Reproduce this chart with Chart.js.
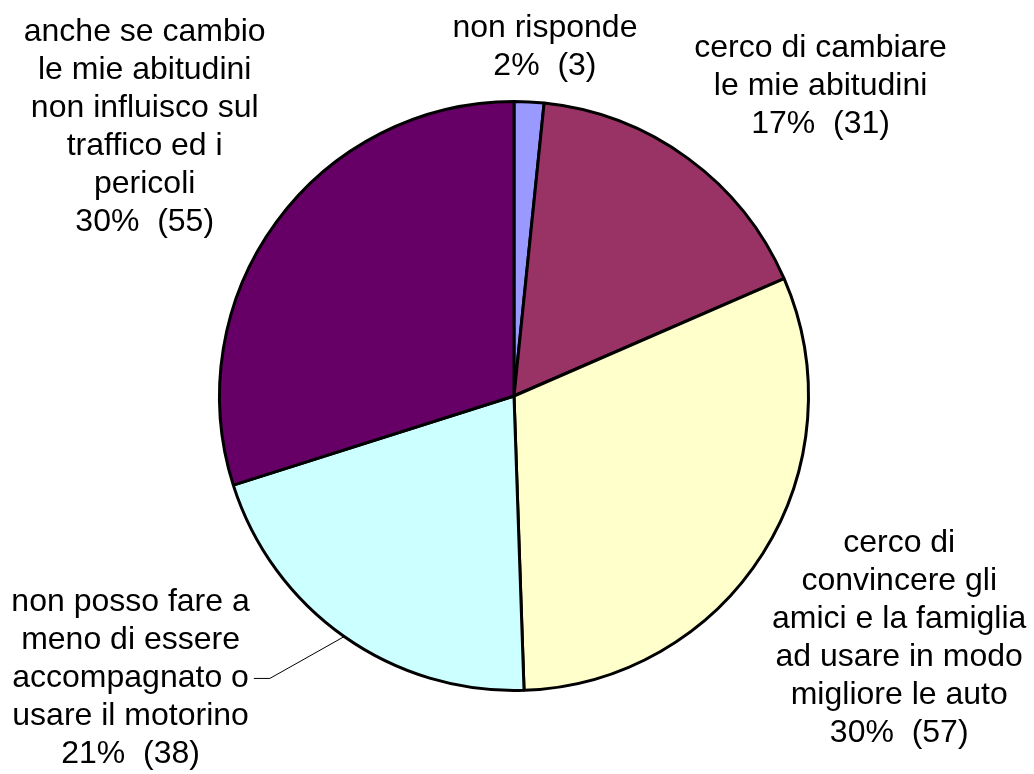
<!DOCTYPE html>
<html>
<head>
<meta charset="utf-8">
<script src="https://cdn.jsdelivr.net/npm/chart.js@4.4.0/dist/chart.umd.min.js"></script>
<style>
  html, body { margin: 0; padding: 0; background: #fff; }
  #wrap { width: 1034px; height: 774px; }
</style>
</head>
<body>
<div id="wrap"><canvas id="pieChart" width="1034" height="774"></canvas></div>
<script>
const categories = [
    'non risponde',
    'cerco di cambiare le mie abitudini',
    'cerco di convincere gli amici e la famiglia ad usare in modo migliore le auto',
    'non posso fare a meno di essere accompagnato o usare il motorino',
    'anche se cambio le mie abitudini non influisco sul traffico ed i pericoli'
];
const counts = [3, 31, 57, 38, 55];
const percents = [2, 17, 30, 21, 30];
// wrapped label lines as in the original
const labelLines = [
    ['non risponde'],
    ['cerco di cambiare', 'le mie abitudini'],
    ['cerco di', 'convincere gli', 'amici e la famiglia', 'ad usare in modo', 'migliore le auto'],
    ['non posso fare a', 'meno di essere', 'accompagnato o', 'usare il motorino'],
    ['anche se cambio', 'le mie abitudini', 'non influisco sul', 'traffico ed i', 'pericoli']
];
const colors = ['#9999FF', '#993366', '#FFFFCC', '#CCFFFF', '#660066'];

// label block centre, relative to pie centre in units of radius
const labelPos = [
    [0.105, -1.183],
    [1.041, -1.051],
    [1.308, 0.824],
    [-1.302, 0.959],
    [-1.254, -0.912]
];

const outsideLabels = {
    id: 'outsideLabels',
    afterDraw(chart) {
        const ctx = chart.ctx;
        const meta = chart.getDatasetMeta(0);
        const lh = 38;
        ctx.save();
        ctx.font = '32px "Liberation Sans", Arial, sans-serif';
        ctx.fillStyle = '#000';
        ctx.textAlign = 'center';
        ctx.textBaseline = 'middle';
        meta.data.forEach((arc, i) => {
            const r = arc.outerRadius;
            const lines = labelLines[i].concat([percents[i] + '%  (' + counts[i] + ')']);
            const bx = arc.x + labelPos[i][0] * r;
            const by = arc.y + labelPos[i][1] * r;
            const top = by - (lines.length - 1) * lh / 2;
            lines.forEach((t, k) => ctx.fillText(t, bx, top + k * lh));
            if (i === 3) {
                // leader line from "accompagnato o" to slice edge
                const w = ctx.measureText(lines[2]).width;
                const ly = top + 2 * lh;
                const x0 = bx + w / 2 + 5;
                const mid = (arc.startAngle + arc.endAngle) / 2;
                const ex = arc.x + Math.cos(mid) * r;
                const ey = arc.y + Math.sin(mid) * r;
                ctx.strokeStyle = '#000';
                ctx.lineWidth = 1;
                ctx.beginPath();
                ctx.moveTo(x0, ly);
                ctx.lineTo(x0 + 16, ly);
                ctx.lineTo(ex, ey);
                ctx.stroke();
            }
        });
        ctx.restore();
    }
};

const ctx = document.getElementById('pieChart').getContext('2d');
const pieChart = new Chart(ctx, {
    type: 'pie',
    data: {
        labels: categories,
        datasets: [{
            data: counts,
            backgroundColor: colors,
            borderColor: '#000',
            borderWidth: 3,
            borderAlign: 'center'
        }]
    },
    options: {
        responsive: false,
        animation: false,
        layout: { padding: { top: 100, bottom: 82, left: 218, right: 224 } },
        plugins: {
            legend: { display: false },
            tooltip: { enabled: false }
        }
    },
    plugins: [outsideLabels]
});
</script>
</body>
</html>
